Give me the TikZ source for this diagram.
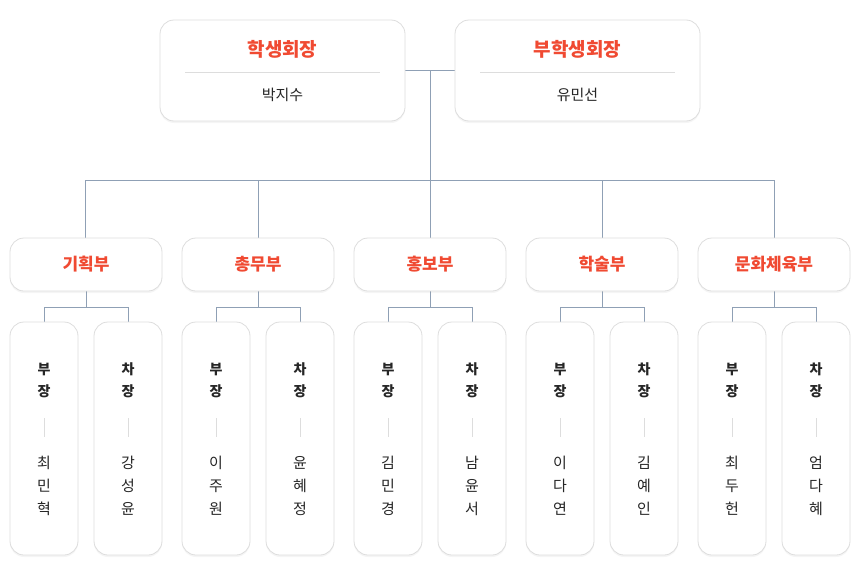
\documentclass[tikz,border=0pt]{standalone}
\usepackage{fontspec}
\newfontfamily\kr{Noto Sans CJK KR}
\usetikzlibrary{shadows}
\definecolor{accent}{HTML}{F04A32}
\definecolor{conn}{HTML}{8FA0B5}
\definecolor{bord}{HTML}{DDDDDD}
\tikzset{
 card/.style={draw=bord,fill=white,rounded corners=14pt,line width=0.8pt,
   drop shadow={shadow xshift=0pt,shadow yshift=-2pt,opacity=0.08}},
 ln/.style={draw=conn,line width=0.8pt},
 ttl/.style={font=\kr\fontsize{19}{22}\selectfont\bfseries,text=accent},
 dep/.style={font=\kr\fontsize{17}{20}\selectfont\bfseries,text=accent},
 nm/.style={font=\kr\fontsize{15}{18}\selectfont,text=black!85},
 rl/.style={font=\kr\fontsize{14}{17}\selectfont\bfseries,text=black!85},
}
\begin{document}
\begin{tikzpicture}[x=1pt,y=-1pt]
\useasboundingbox (0,0) rectangle (860,581);
% top connectors
\coordinate (tj) at (430,70);
\draw[ln] (405,70) -- (455,70);
\draw[ln] (tj) -- (430,238);
\draw[ln] (85,238) -- (85,180) -- (774,180) -- (774,238);
\foreach \x in {258,602} \draw[ln] (\x,180) -- (\x,238);
% top cards
\node[card,minimum width=245pt,minimum height=101pt] (pres) at (282.5,70.5) {};
\node[card,minimum width=245pt,minimum height=101pt] (vp) at (577.5,70.5) {};
\node[ttl] (pt) at (282.5,49) {학생회장};
\node[nm] (pn) at (282.5,95) {박지수};
\draw[draw=bord] (185,72) -- (380,72);
\node[ttl] (vt) at (577.5,49) {부학생회장};
\node[nm] (vn) at (577.5,95) {유민선};
\draw[draw=bord] (480,72) -- (675,72);
% departments
\foreach \c/\d/\ba/\bb/\ca/\cb/\cc/\da/\db/\dc in {
 86/기획부/부/장/최/민/혁/강/성/윤,
 258/총무부/부/장/이/주/원/윤/혜/정,
 430/홍보부/부/장/김/민/경/남/윤/서,
 602/학술부/부/장/이/다/연/김/예/인,
 774/문화체육부/부/장/최/두/헌/엄/다/혜}{
 \draw[ln] (\c,291) -- (\c,307);
 \draw[ln] (\c-42,322) -- (\c-42,307) -- (\c+42,307) -- (\c+42,322);
 \node[card,minimum width=152pt,minimum height=53pt] (d\c) at (\c,264.5) {};
 \node[dep] at (d\c) {\d};
 \foreach \o/\r in {-42/부,42/차}{
   \node[card,minimum width=68pt,minimum height=233pt] (m\c\o) at (\c+\o,438.5) {};
   \node[rl] at (\c+\o,369) {\r};
   \node[rl] at (\c+\o,391) {장};
   \draw[draw=bord] (\c+\o,418) -- (\c+\o,437);
 }
 \node[nm] at (\c-42,463) {\ca};
 \node[nm] at (\c-42,486) {\cb};
 \node[nm] at (\c-42,509) {\cc};
 \node[nm] at (\c+42,463) {\da};
 \node[nm] at (\c+42,486) {\db};
 \node[nm] at (\c+42,509) {\dc};
}
\end{tikzpicture}
\end{document}
